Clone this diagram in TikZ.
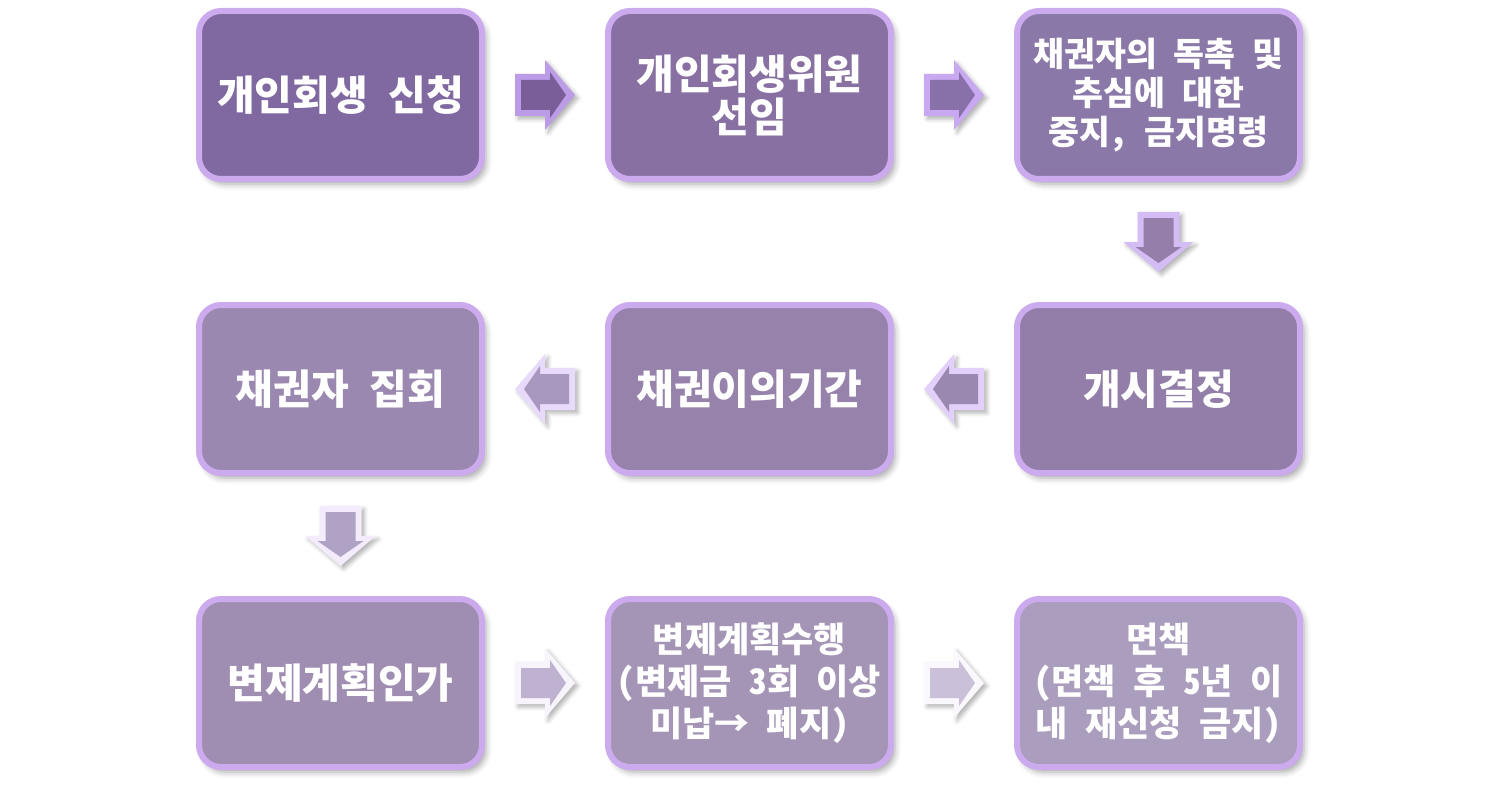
\documentclass[tikz,border=0pt]{standalone}
\usepackage{fontspec}
\newfontfamily\krfont{Noto Sans CJK KR}[RawFeature=+hwid]
\usetikzlibrary{positioning,calc,shadows.blur}

\definecolor{boxA}{HTML}{8068A0}
\definecolor{boxB}{HTML}{8870A2}
\definecolor{boxC}{HTML}{8A78A8}
\definecolor{boxD}{HTML}{927EA8}
\definecolor{boxE}{HTML}{9782AC}
\definecolor{boxF}{HTML}{9A88B0}
\definecolor{boxG}{HTML}{A08EB2}
\definecolor{boxH}{HTML}{A495B6}
\definecolor{boxI}{HTML}{AA9DBD}
\definecolor{rim}{HTML}{CCAAEE}
% arrow faces and bevels
\definecolor{arrA}{HTML}{7A5E9A}\definecolor{bevA}{HTML}{BC9CE6}
\definecolor{arrB}{HTML}{8870A8}\definecolor{bevB}{HTML}{C8A8F0}
\definecolor{arrC}{HTML}{957FAA}\definecolor{bevC}{HTML}{D4BCF4}
\definecolor{arrD}{HTML}{9A88B0}\definecolor{bevD}{HTML}{E2D0FA}
\definecolor{arrE}{HTML}{A898C0}\definecolor{bevE}{HTML}{E8DAFA}
\definecolor{arrF}{HTML}{B0A2C4}\definecolor{bevF}{HTML}{F4ECFC}
\definecolor{arrG}{HTML}{BEB2D0}\definecolor{bevG}{HTML}{F8F4FC}
\definecolor{arrH}{HTML}{CAC0DA}\definecolor{bevH}{HTML}{FAF8FD}

% block arrow between two boxes: from, to, angle, face, bevel
\newcommand{\flowarrow}[5]{%
  \begin{scope}[shift={($(#1)!0.5!(#2)$)}, rotate=#3]
    \fill[#5, blur shadow={shadow xshift=1.5pt, shadow yshift=-1.5pt, shadow blur radius=2pt, shadow opacity=30}]
      (-30,-21) -- (0,-21) -- (0,-35) -- (30,0) -- (0,35) -- (0,21) -- (-30,21) -- cycle;
    \fill[#4] (-24,-15) -- (5,-15) -- (5,-23) -- (21,0) -- (5,23) -- (5,15) -- (-24,15) -- cycle;
  \end{scope}}

\tikzset{
  flowbox/.style={draw=rim, line width=3pt, rounded corners=11pt, inner sep=2pt,
    minimum width=141.5pt, minimum height=84pt, align=center, text=white,
    blur shadow={shadow xshift=2pt, shadow yshift=-2.5pt, shadow blur radius=3pt, shadow opacity=35},
    font=\krfont\bfseries\fontsize{20.5}{21.5}\selectfont},
  smalltext/.style={font=\krfont\bfseries\fontsize{16.8}{19.5}\selectfont},
  midtext/.style={font=\krfont\bfseries\fontsize{17.5}{21}\selectfont}
}

\begin{document}
\begin{tikzpicture}[x=0.5pt, y=-0.5pt, node distance=60pt]
  \useasboundingbox (0,0) rectangle (1502,786);

  \node[flowbox, fill=boxA] (apply) at (340.5,95) {개인회생 신청};
  \node[flowbox, fill=boxB, right=of apply] (trustee) {개인회생위원\\선임};
  \node[flowbox, fill=boxC, smalltext, right=of trustee] (stay) {채권자의 독촉 및\\추심에 대한\\중지, 금지명령};
  \node[flowbox, fill=boxD, below=of stay] (open) {개시결정};
  \node[flowbox, fill=boxE, left=of open] (objection) {채권이의기간};
  \node[flowbox, fill=boxF, left=of objection] (meeting) {채권자 집회};
  \node[flowbox, fill=boxG, below=of meeting] (approval) {변제계획인가};
  \node[flowbox, fill=boxH, midtext, right=of approval] (perform) {변제계획수행\\(변제금 3회 이상\\미납→ 폐지)};
  \node[flowbox, fill=boxI, midtext, right=of perform] (discharge) {면책\\(면책 후 5년 이\\내 재신청 금지)};

  \flowarrow{apply}{trustee}{0}{arrA}{bevA}
  \flowarrow{trustee}{stay}{0}{arrB}{bevB}
  \flowarrow{stay}{open}{-90}{arrC}{bevC}
  \flowarrow{open}{objection}{180}{arrD}{bevD}
  \flowarrow{objection}{meeting}{180}{arrE}{bevE}
  \flowarrow{meeting}{approval}{-90}{arrF}{bevF}
  \flowarrow{approval}{perform}{0}{arrG}{bevG}
  \flowarrow{perform}{discharge}{0}{arrH}{bevH}
\end{tikzpicture}
\end{document}
